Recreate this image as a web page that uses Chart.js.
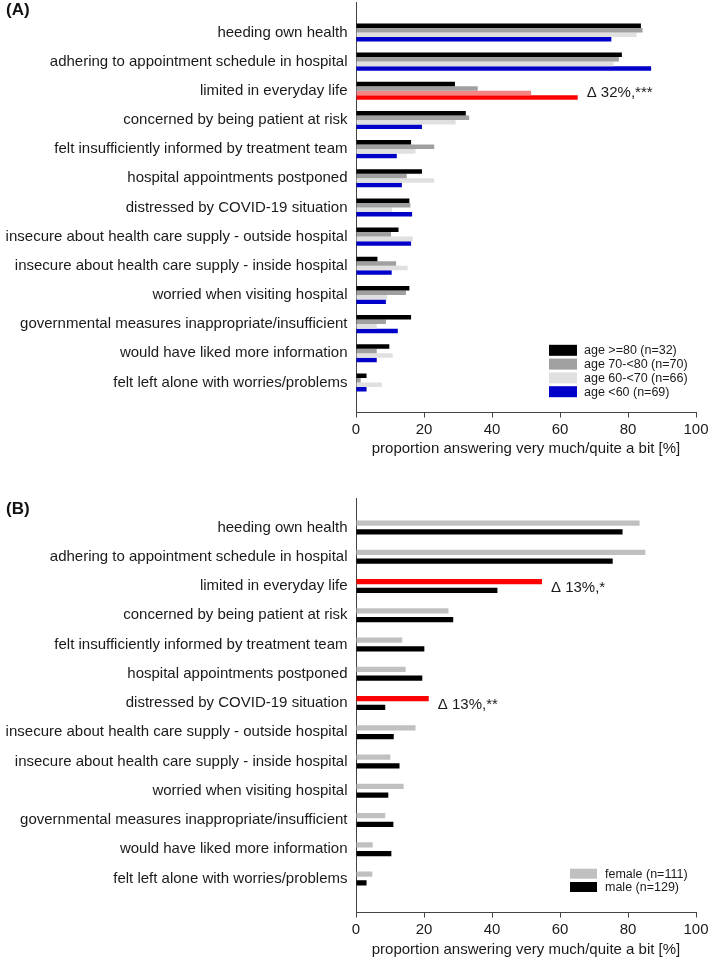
<!DOCTYPE html>
<html lang="en">
<head>
<meta charset="UTF-8">
<style>
  body { margin: 0; background: #fff; }
  .panel { position: absolute; left: 0; }
  .tag { position: absolute; left: 6px; font: bold 17px "Liberation Sans", Arial, sans-serif; line-height: 1; color: #111; }
</style>
</head>
<body>
<script src="https://cdn.jsdelivr.net/npm/chart.js@4.4.1/dist/chart.umd.min.js"></script>
<canvas id="chart-a" class="panel" style="top:0" width="709" height="460"></canvas>
<canvas id="chart-b" class="panel" style="top:482px" width="709" height="482"></canvas>
<div class="tag" style="top:1px">(A)</div>
<div class="tag" style="top:500px">(B)</div>
<script>
    const categories = [
        "heeding own health",
        "adhering to appointment schedule in hospital",
        "limited in everyday life",
        "concerned by being patient at risk",
        "felt insufficiently informed by treatment team",
        "hospital appointments postponed",
        "distressed by COVID-19 situation",
        "insecure about health care supply - outside hospital",
        "insecure about health care supply - inside hospital",
        "worried when visiting hospital",
        "governmental measures inappropriate/insufficient",
        "would have liked more information",
        "felt left alone with worries/problems"
    ];

    // panel A - by age group
    const age80 = [83.8, 78.2, 29.1, 32.3, 16.2, 19.4, 15.7, 12.5, 6.3, 15.7, 16.2, 9.8, 3.1];
    const age70 = [84.3, 77.3, 35.8, 33.3, 23.0, 14.9, 16.0, 10.3, 11.8, 14.7, 8.8, 6.1, 1.4];
    const age60 = [82.5, 75.8, 51.5, 29.3, 17.5, 23.0, 10.6, 16.7, 15.2, 9.2, 6.1, 10.8, 7.6];
    const ageUnder60 = [75.1, 86.8, 65.2, 19.4, 12.0, 13.5, 16.5, 16.2, 10.5, 8.8, 12.3, 6.1, 3.1];
    const notesA = [{ dataset: 3, index: 2, text: "\u0394 32%,***" }];

    // panel B - by sex
    const female = [83.4, 85.1, 54.7, 27.2, 13.6, 14.6, 21.4, 17.5, 10.1, 14.0, 8.6, 4.9, 4.8];
    const male = [78.4, 75.5, 41.6, 28.6, 20.1, 19.5, 8.6, 11.1, 12.8, 9.5, 11.0, 10.4, 3.1];
    const notesB = [
        { dataset: 0, index: 2, text: "\u0394 13%,*" },
        { dataset: 0, index: 6, text: "\u0394 13%,**" }
    ];

    const FONT = '"Liberation Sans", Arial, sans-serif';
    const TEXT = '#1a1a1a';
    const AXIS = '#444';
    Chart.defaults.font.family = FONT;
    Chart.defaults.font.size = 15;
    Chart.defaults.color = TEXT;

    function points(values) {
        return values.map((v, i) => ({ x: v, y: i }));
    }

    // base colour everywhere, a different one for highlighted rows
    function colours(base, highlight) {
        return categories.map((c, i) => (highlight[i] !== undefined ? highlight[i] : base));
    }

    function series(label, values, base, highlight) {
        return {
            label: label,
            data: points(values),
            baseColor: base,
            backgroundColor: colours(base, highlight || {}),
            borderWidth: 0
        };
    }

    const boxLegend = {
        id: 'boxLegend',
        afterDraw(chart, args, opts) {
            const ctx = chart.ctx;
            ctx.save();
            ctx.font = '12.5px ' + FONT;
            ctx.textBaseline = 'middle';
            chart.data.datasets.forEach((ds, i) => {
                const cy = opts.y + i * opts.rowH;
                ctx.fillStyle = ds.baseColor;
                ctx.fillRect(opts.x, cy - opts.boxH / 2, opts.boxW, opts.boxH);
                ctx.fillStyle = TEXT;
                ctx.fillText(ds.label, opts.x + opts.boxW + opts.gap, cy + 0.5);
            });
            ctx.restore();
        }
    };

    const deltaNotes = {
        id: 'deltaNotes',
        afterDatasetsDraw(chart, args, opts) {
            const ctx = chart.ctx;
            const yScale = chart.scales.y;
            ctx.save();
            ctx.font = '15px ' + FONT;
            ctx.fillStyle = TEXT;
            ctx.textBaseline = 'middle';
            (opts.notes || []).forEach(n => {
                const bar = chart.getDatasetMeta(n.dataset).data[n.index];
                ctx.fillText(n.text, bar.x + opts.gap, yScale.getPixelForValue(n.index) + opts.dy);
            });
            ctx.restore();
        }
    };

    function makePanel(id, datasets, cfg) {
        return new Chart(document.getElementById(id), {
            type: 'bar',
            data: { datasets: datasets },
            options: {
                indexAxis: 'y',
                responsive: false,
                animation: false,
                layout: { padding: { top: cfg.padTop, bottom: cfg.padBottom, left: 0, right: 13 } },
                datasets: { bar: { categoryPercentage: cfg.catPct, barPercentage: cfg.barPct } },
                scales: {
                    x: {
                        type: 'linear', min: 0, max: 100,
                        ticks: { stepSize: 20, padding: 3, color: TEXT },
                        grid: { drawOnChartArea: false, tickLength: 5, color: AXIS },
                        border: { color: AXIS },
                        title: {
                            display: true,
                            text: 'proportion answering very much/quite a bit [%]',
                            color: TEXT,
                            padding: { top: 4, bottom: 2 }
                        },
                        afterFit: s => {
                            s.height = cfg.xHeight;
                            s.paddingLeft = 0;
                            s.paddingRight = 0;
                        }
                    },
                    y: {
                        type: 'linear', reverse: true, offset: false, min: cfg.yMin, max: cfg.yMax,
                        grid: { display: false, drawTicks: false, offset: false },
                        border: { color: AXIS },
                        ticks: {
                            autoSkip: false, padding: 8.5, color: TEXT,
                            callback: v => categories[Math.round(v)]
                        },
                        afterBuildTicks: s => { s.ticks = categories.map((c, i) => ({ value: i })); },
                        afterFit: s => {
                            s.width = 356;
                            s.paddingTop = 0;
                            s.paddingBottom = 0;
                        }
                    }
                },
                plugins: {
                    legend: { display: false },
                    tooltip: { enabled: false },
                    boxLegend: cfg.legend,
                    deltaNotes: { notes: cfg.notes, gap: 9, dy: 2 }
                }
            },
            plugins: [boxLegend, deltaNotes]
        });
    }

    makePanel('chart-a', [
        series('age >=80 (n=32)', age80, '#000000'),
        series('age 70-<80 (n=70)', age70, '#a0a0a0'),
        series('age 60-<70 (n=66)', age60, '#e0e0e0', { 2: '#f48482' }),
        series('age <60 (n=69)', ageUnder60, '#0000c8', { 2: '#ff0000' })
    ], {
        padTop: 2.7, padBottom: 0, xHeight: 47.5, yMin: -1.02, yMax: 13.03,
        catPct: 0.62, barPct: 1.0, notes: notesA,
        legend: { x: 549, y: 350.3, rowH: 13.8, boxW: 28, boxH: 11, gap: 7 }
    });

    makePanel('chart-b', [
        series('female (n=111)', female, '#c0c0c0', { 2: '#ff0000', 6: '#ff0000' }),
        series('male (n=129)', male, '#000000')
    ], {
        padTop: 16.3, padBottom: 3.3, xHeight: 48.2, yMin: -1.0, yMax: 13.16,
        catPct: 0.6, barPct: 0.6, notes: notesB,
        legend: { x: 570, y: 391.7, rowH: 13.3, boxW: 27, boxH: 10, gap: 8 }
    });
</script>
</body>
</html>
